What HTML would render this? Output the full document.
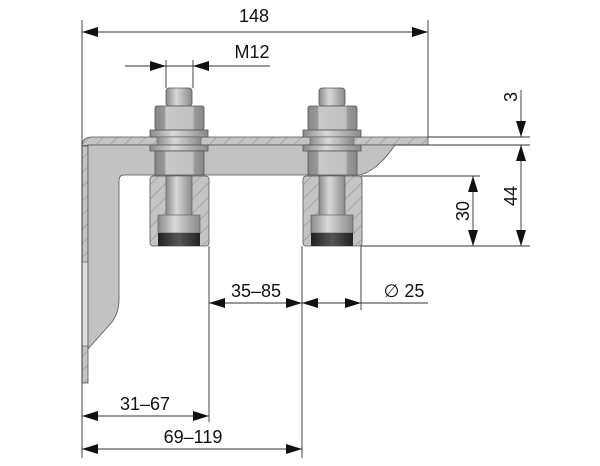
<!DOCTYPE html>
<html><head><meta charset="utf-8"><style>
html,body{margin:0;padding:0;background:#fff;}
svg{display:block;}
text{font-family:"Liberation Sans","DejaVu Sans",sans-serif;fill:#111;font-size:18px;}
</style></head><body>
<svg width="600" height="466" viewBox="0 0 600 466" xmlns="http://www.w3.org/2000/svg">
<defs>
<pattern id="hat" width="10" height="10" patternUnits="userSpaceOnUse" patternTransform="rotate(45)">
<rect width="10" height="10" fill="#c4c4c4"/><line x1="0" y1="0" x2="0" y2="10" stroke="#777" stroke-width="0.8"/>
</pattern>
<linearGradient id="cyl" x1="0" x2="1" y1="0" y2="0">
<stop offset="0" stop-color="#8a8a8a"/><stop offset="0.4" stop-color="#d8d8d8"/><stop offset="1" stop-color="#8a8a8a"/>
</linearGradient>
<linearGradient id="nut" x1="0" x2="1">
<stop offset="0" stop-color="#888"/><stop offset="0.2" stop-color="#999"/><stop offset="0.22" stop-color="#c8c8c8"/><stop offset="0.78" stop-color="#c0c0c0"/><stop offset="0.8" stop-color="#9a9a9a"/><stop offset="1" stop-color="#888"/>
</linearGradient>
<linearGradient id="dark" x1="0" x2="1">
<stop offset="0" stop-color="#222"/><stop offset="0.5" stop-color="#555"/><stop offset="1" stop-color="#222"/>
</linearGradient>
<g id="bolt">
<rect x="-13" y="88" width="26" height="18" rx="3" fill="url(#cyl)" stroke="#555" stroke-width="0.8"/>
<rect x="-24" y="106" width="49" height="24" rx="2" fill="url(#nut)" stroke="#555" stroke-width="0.8"/>
<rect x="-29" y="130" width="58" height="7" fill="url(#cyl)" stroke="#555" stroke-width="0.8"/>
<rect x="-22" y="137" width="44" height="8" fill="url(#cyl)" stroke="#666" stroke-width="0.6"/>
<rect x="-29" y="145" width="58" height="6" fill="url(#cyl)" stroke="#555" stroke-width="0.8"/>
<rect x="-24" y="151" width="49" height="24" fill="url(#nut)" stroke="#555" stroke-width="0.8"/>
<rect x="-29" y="176" width="59" height="70" rx="3" fill="url(#hat)" stroke="#555" stroke-width="0.8"/>
<rect x="-13" y="176" width="26" height="40" fill="url(#cyl)" stroke="#555" stroke-width="0.6"/>
<rect x="-21" y="215" width="42" height="18" fill="url(#cyl)" stroke="#555" stroke-width="0.6"/>
<rect x="-21" y="233" width="42" height="13" fill="url(#dark)"/>
</g>
</defs>

<path d="M82 146 Q82 137 92 137 L428 137 L428 145 L89 145 Z" fill="url(#hat)" stroke="#555" stroke-width="0.8"/>
<rect x="82" y="146" width="6" height="237" fill="url(#hat)" stroke="#555" stroke-width="0.8"/>
<rect x="82" y="262" width="6" height="84" fill="#ddd" stroke="#555" stroke-width="0.6"/>
<path d="M88 145 L395 145 Q378 170 360 175 L124 175 Q119 175 119 181 L119 300 Q119 312 112 322 L88 349 Z" fill="#c2c2c2" stroke="#555" stroke-width="0.8"/>
<use href="#bolt" x="179"/>
<use href="#bolt" x="332"/>

<g stroke="#333" stroke-width="0.9" fill="none">
<line x1="82" y1="20" x2="82" y2="458"/>
<line x1="428" y1="20" x2="428" y2="137"/>
<line x1="82" y1="32" x2="428" y2="32"/>
<line x1="125" y1="66" x2="270" y2="66"/>
<line x1="166" y1="60" x2="166" y2="88"/>
<line x1="193" y1="60" x2="193" y2="88"/>
<line x1="428" y1="137" x2="530" y2="137"/>
<line x1="395" y1="145" x2="530" y2="145"/>
<line x1="361" y1="176" x2="480" y2="176"/>
<line x1="361" y1="246" x2="530" y2="246"/>
<line x1="521" y1="90" x2="521" y2="137"/>
<line x1="521" y1="145" x2="521" y2="246"/>
<line x1="473" y1="176" x2="473" y2="246"/>
<line x1="209" y1="246" x2="209" y2="422"/>
<line x1="302" y1="246" x2="302" y2="458"/>
<line x1="361" y1="246" x2="361" y2="310"/>
<line x1="209" y1="303" x2="302" y2="303"/>
<line x1="302" y1="303" x2="428" y2="303"/>
<line x1="82" y1="416" x2="209" y2="416"/>
<line x1="82" y1="449" x2="302" y2="449"/>
</g>
<g fill="#111">
<path d="M82 32 l16 -5 v10z"/><path d="M428 32 l-16 -5 v10z"/>
<path d="M166 66 l-16 -5 v10z"/><path d="M193 66 l16 -5 v10z"/>
<path d="M521 137 l-5 -16 h10z"/><path d="M521 145 l-5 16 h10z"/>
<path d="M521 246 l-5 -16 h10z"/>
<path d="M473 176 l-5 16 h10z"/><path d="M473 246 l-5 -16 h10z"/>
<path d="M209 303 l16 -5 v10z"/><path d="M302 303 l-16 -5 v10z"/>
<path d="M302 303 l16 -5 v10z"/><path d="M361 303 l-16 -5 v10z"/>
<path d="M82 416 l16 -5 v10z"/><path d="M209 416 l-16 -5 v10z"/>
<path d="M82 449 l16 -5 v10z"/><path d="M302 449 l-16 -5 v10z"/>
</g>
<text x="254" y="22" text-anchor="middle">148</text>
<text x="252" y="58" text-anchor="middle">M12</text>
<text x="256" y="297" text-anchor="middle">35–85</text>
<text x="145" y="410" text-anchor="middle">31–67</text>
<text x="193" y="443" text-anchor="middle">69–119</text>
<text x="404" y="297" text-anchor="middle">∅ 25</text>
<text transform="translate(517 97) rotate(-90)" text-anchor="middle">3</text>
<text transform="translate(517 196) rotate(-90)" text-anchor="middle">44</text>
<text transform="translate(469 211) rotate(-90)" text-anchor="middle">30</text>
</svg>
</body></html>
